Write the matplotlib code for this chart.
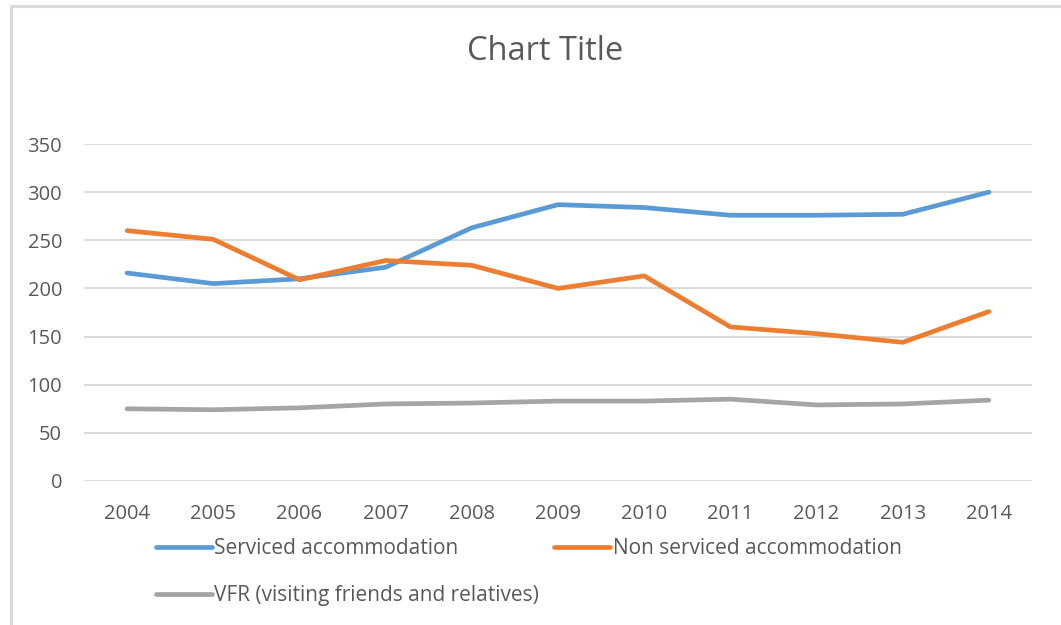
import matplotlib
matplotlib.use("Agg")
import matplotlib.pyplot as plt
from matplotlib.lines import Line2D

years = ["2004", "2005", "2006", "2007", "2008", "2009", "2010", "2011", "2012", "2013", "2014"]
serviced = [216, 205, 210, 222, 263, 287, 284, 276, 276, 277, 300]
non_serviced = [260, 251, 209, 229, 224, 200, 213, 160, 153, 144, 176]
vfr = [75, 74, 76, 80, 81, 83, 83, 85, 79, 80, 84]
series_names = ["Serviced accommodation", "Non serviced accommodation",
                "VFR (visiting friends and relatives)"]
y_ticks = [0, 50, 100, 150, 200, 250, 300, 350]

plt.rcParams['font.family'] = ['Open Sans', 'DejaVu Sans']
W, H = 1061, 625
fig = plt.figure(figsize=(W / 100, H / 100), dpi=100)

# chart border (top and left visible)
fig.add_artist(Line2D([11 / W, 11 / W], [0, 1 - 6 / H], color="#D9D9D9", lw=2.2,
                      transform=fig.transFigure))
fig.add_artist(Line2D([11 / W, 1], [1 - 6 / H, 1 - 6 / H], color="#D9D9D9", lw=2.2,
                      transform=fig.transFigure))

left, right, bottom, top = 84, 1032, 481, 144
ax = fig.add_axes([left / W, 1 - bottom / H, (right - left) / W, (bottom - top) / H])

x = list(range(len(years)))
colors = ["#5B9BD5", "#ED7D31", "#A5A5A5"]
lines = []
for vals, c, name in zip([serviced, non_serviced, vfr], colors, series_names):
    ln, = ax.plot(x, vals, color=c, lw=3.4, solid_capstyle="round",
                  solid_joinstyle="round", label=name, zorder=3)
    lines.append(ln)

ax.set_xlim(-0.5, len(years) - 0.5)
ax.set_ylim(0, 350)
ax.set_yticks(y_ticks)
ax.set_xticks(x)
ax.set_xticklabels(years)
ax.grid(axis="y", color="#D9D9D9", lw=1.4)
ax.set_axisbelow(True)
for s in ax.spines.values():
    s.set_visible(False)
ax.tick_params(axis="both", length=0, labelsize=14.5, colors="#595959")
ax.tick_params(axis="y", pad=15.8)
ax.tick_params(axis="x", pad=16.5)

fig.text(545 / W, 1 - 51 / H, "Chart Title", ha="center", va="center",
         fontsize=23.5, color="#595959")

fig.legend([lines[0], lines[2], lines[1]],
           [series_names[0], series_names[2], series_names[1]],
           ncol=2, loc="upper left", bbox_to_anchor=(156 / W, 1 - 538.5 / H),
           bbox_transform=fig.transFigure, frameon=False, fontsize=15,
           labelcolor="#595959", handlelength=2.7, handletextpad=0.1,
           columnspacing=0.72, labelspacing=1.24, borderpad=0, borderaxespad=0)

fig.savefig("out.png", dpi=100)
